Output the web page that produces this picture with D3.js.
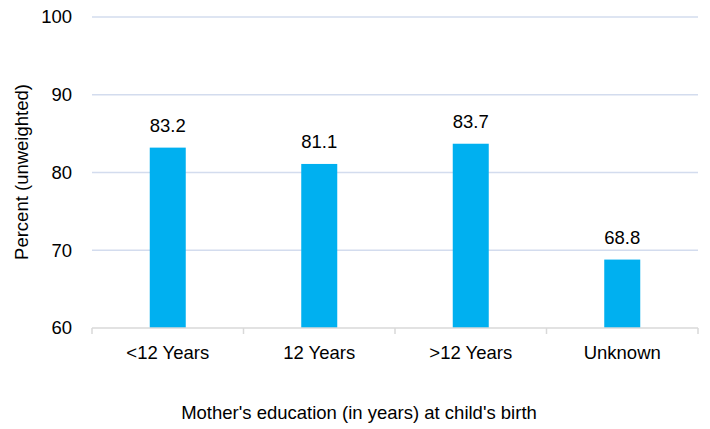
<!DOCTYPE html>
<html lang="en">
<head>
  <meta charset="UTF-8">
  <title>Percent by mother's education</title>
  <script src="https://d3js.org/d3.v7.min.js"></script>
  <style>
    body { margin: 0; background: #fff; }
    text { font-family: "Liberation Sans", Arial, sans-serif; fill: #000; font-size: 18.5px; }
  </style>
</head>
<body>
<script>
  // categories and values
  const categories = ['<12 Years', '12 Years', '>12 Years', 'Unknown'];
  const values = [83.2, 81.1, 83.7, 68.8];
  const yTicks = [60, 70, 80, 90, 100];

  const width = 710, height = 429;
  const margin = { top: 17, right: 12, bottom: 101, left: 92 };
  const plotW = width - margin.left - margin.right;
  const plotH = height - margin.top - margin.bottom;

  const svg = d3.select('body').append('svg')
    .attr('width', width)
    .attr('height', height);

  const g = svg.append('g')
    .attr('transform', `translate(${margin.left},${margin.top})`);

  const x = d3.scaleBand()
    .domain(categories)
    .range([0, plotW]);

  const y = d3.scaleLinear()
    .domain([60, 100])
    .range([plotH, 0]);

  // gridlines
  g.selectAll('.grid')
    .data(yTicks.filter(t => t > 60))
    .enter().append('line')
    .attr('x1', 0)
    .attr('x2', plotW)
    .attr('y1', d => y(d))
    .attr('y2', d => y(d))
    .attr('stroke', '#d3dcee')
    .attr('stroke-width', 1.5);

  // y tick labels
  g.selectAll('.ylab')
    .data(yTicks)
    .enter().append('text')
    .attr('x', -20)
    .attr('y', d => y(d))
    .attr('dy', '0.35em')
    .attr('text-anchor', 'end')
    .text(d => d);

  // bars
  const barW = 36;
  g.selectAll('.bar')
    .data(values)
    .enter().append('rect')
    .attr('x', (d, i) => x(categories[i]) + x.bandwidth() / 2 - barW / 2)
    .attr('y', d => y(d))
    .attr('width', barW)
    .attr('height', d => plotH - y(d))
    .attr('fill', '#00b0f0');

  // value labels
  g.selectAll('.val')
    .data(values)
    .enter().append('text')
    .attr('x', (d, i) => x(categories[i]) + x.bandwidth() / 2)
    .attr('y', d => y(d) - 16)
    .attr('text-anchor', 'middle')
    .text(d => d.toFixed(1));

  // x axis line and ticks
  g.append('line')
    .attr('x1', 0).attr('x2', plotW)
    .attr('y1', plotH).attr('y2', plotH)
    .attr('stroke', '#d9d9d9')
    .attr('stroke-width', 1.5);

  const bounds = categories.map(c => x(c)).concat([plotW]);
  g.selectAll('.tick')
    .data(bounds)
    .enter().append('line')
    .attr('x1', d => d).attr('x2', d => d)
    .attr('y1', plotH).attr('y2', plotH + 6)
    .attr('stroke', '#d9d9d9')
    .attr('stroke-width', 1.5);

  // category labels
  g.selectAll('.xlab')
    .data(categories)
    .enter().append('text')
    .attr('x', d => x(d) + x.bandwidth() / 2)
    .attr('y', plotH + 25)
    .attr('dy', '0.35em')
    .attr('text-anchor', 'middle')
    .text(d => d);

  // axis titles
  svg.append('text')
    .attr('x', 359)
    .attr('y', 413)
    .attr('dy', '0.35em')
    .attr('text-anchor', 'middle')
    .text("Mother's education (in years) at child's birth");

  svg.append('text')
    .attr('transform', 'translate(22,172) rotate(-90)')
    .attr('dy', '0.35em')
    .attr('text-anchor', 'middle')
    .text('Percent (unweighted)');
</script>
</body>
</html>
